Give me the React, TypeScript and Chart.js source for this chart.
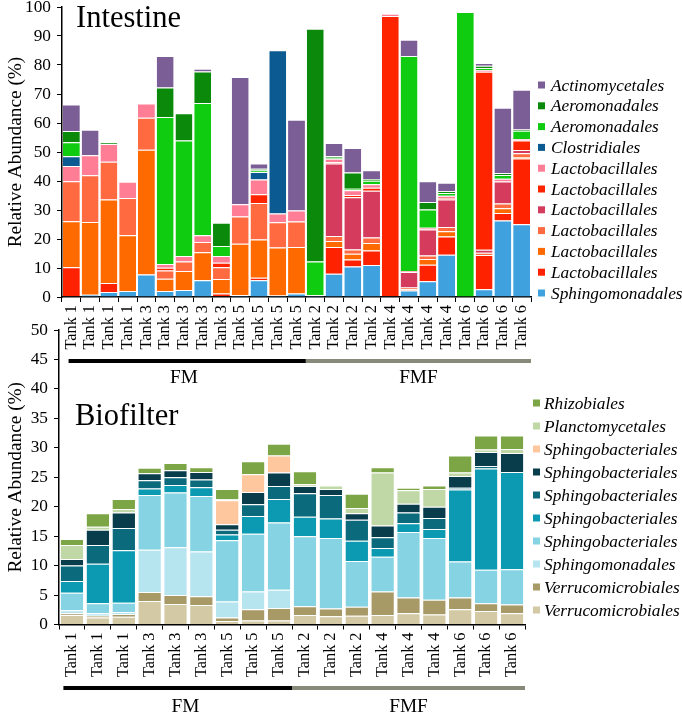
import React, { useEffect, useRef } from "react";
import { Chart, registerables } from "chart.js";

Chart.register(...registerables);

// ---------------- Intestine data ----------------
const intestineLabels = [
  "Tank 1", "Tank 1", "Tank 1", "Tank 1",
  "Tank 3", "Tank 3", "Tank 3", "Tank 3", "Tank 3",
  "Tank 5", "Tank 5", "Tank 5", "Tank 5",
  "Tank 2", "Tank 2", "Tank 2", "Tank 2",
  "Tank 4", "Tank 4", "Tank 4", "Tank 4",
  "Tank 6", "Tank 6", "Tank 6", "Tank 6",
];
const intSphingomonadales = [0.3, 0.8, 1.7, 2.1, 7.8, 2.1, 2.4, 5.8, 0.3, 0.6, 5.8, 0.5, 1.2, 0.6, 8.0, 10.5, 11.0, 0.3, 2.2, 5.4, 14.6, 0.2, 2.7, 26.4, 25.1];
const intLactoRedLow = [10.0, 0, 3.1, 0, 0, 0, 0, 0, 0.9, 0, 0.8, 0, 0, 0, 9.2, 2.4, 5.0, 0, 0, 5.7, 6.3, 0, 11.8, 2.6, 22.7];
const intLactoOrange = [15.8, 25.1, 28.8, 19.2, 43.0, 4.2, 6.6, 9.6, 5.0, 17.8, 13.2, 16.6, 16.0, 0, 2.1, 2.0, 2.6, 0, 0.5, 2.0, 1.8, 0, 0, 1.6, 0.4];
const intLactoCoral = [13.8, 16.1, 13.0, 12.8, 11.0, 2.8, 3.2, 3.6, 4.1, 9.4, 12.6, 8.7, 8.8, 0, 1.7, 1.5, 1.9, 0, 0.6, 1.2, 1.4, 0, 0.8, 1.6, 1.4];
const intLactoCrimson = [0, 0, 0, 0, 0, 0, 0, 0, 0, 0, 0, 0, 0, 0, 25.0, 18.0, 16.1, 0, 5.3, 9.0, 9.5, 0, 1.0, 7.6, 1.1];
const intLactoRedHigh = [0, 0, 0, 0, 0, 1.0, 0, 0, 1.5, 0, 3.0, 0, 0, 0, 0.5, 0.8, 1.1, 96.6, 0, 0, 0.5, 0, 61.4, 0, 3.3];
const intLactoPink = [5.3, 6.9, 6.2, 5.6, 4.9, 1.3, 1.9, 2.3, 2.3, 4.2, 5.1, 3.0, 3.8, 0, 1.2, 1.6, 1.2, 0.8, 0.4, 0.6, 0.8, 0, 0.6, 1.0, 0.5];
const intClostridiales = [3.3, 0, 0, 0, 0, 0, 0, 0, 0, 0, 2.6, 56.3, 0, 0, 0, 0, 0, 0, 0, 0, 0, 0, 0, 0, 0];
const intAeroBright = [4.9, 0, 0, 0, 0, 50.7, 39.9, 45.6, 3.5, 0, 0.5, 0, 0, 11.6, 0.3, 0.5, 1.2, 0, 74.1, 6.3, 1.0, 98.1, 0.6, 1.3, 2.8];
const intAeroDark = [3.8, 0, 0.4, 0, 0, 10.1, 9.4, 10.9, 8.0, 0, 0.6, 0, 0, 80.3, 0.6, 5.6, 0.6, 0, 0, 2.6, 0.6, 0, 0.8, 0.7, 0.5];
const intActinomycetales = [9.2, 8.8, 0, 0, 0, 10.9, 0, 0.9, 0, 43.9, 1.8, 0, 31.3, 0, 4.5, 8.5, 3.0, 0, 5.6, 7.1, 2.9, 0, 1.0, 22.5, 13.7];
const intestineGroups = [
  { label: "FM", from: 0, to: 12 },
  { label: "FMF", from: 13, to: 24 },
];

// ---------------- Biofilter data ----------------
const biofilterLabels = [
  "Tank 1", "Tank 1", "Tank 1", "Tank 3", "Tank 3", "Tank 3", "Tank 5", "Tank 5", "Tank 5",
  "Tank 2", "Tank 2", "Tank 2", "Tank 4", "Tank 4", "Tank 4", "Tank 6", "Tank 6", "Tank 6",
];
const bioVerrucoLight = [1.6, 1.2, 1.3, 4.0, 3.5, 3.3, 0.6, 0.7, 0.7, 1.6, 1.4, 1.5, 1.6, 1.9, 1.7, 2.6, 2.3, 1.9];
const bioVerrucoDark = [0.3, 0.3, 0.5, 1.5, 1.5, 1.5, 0.6, 1.9, 2.1, 1.5, 1.3, 1.5, 4.0, 2.7, 2.5, 2.0, 1.3, 1.5];
const bioSphingomonadales = [0.5, 0.4, 0.3, 7.2, 8.1, 7.6, 2.7, 3.0, 3.1, 0, 0, 0, 0, 0, 0, 0, 0, 0];
const bioSphingoLightBlue = [3.0, 1.7, 1.6, 9.3, 9.3, 9.4, 10.4, 9.8, 11.4, 11.9, 12.0, 7.8, 5.9, 11.1, 10.5, 6.1, 5.7, 6.0];
const bioSphingoTeal = [2.0, 6.7, 8.9, 1.1, 1.3, 1.5, 1.0, 3.0, 4.0, 3.3, 3.3, 3.4, 1.5, 1.5, 1.5, 12.2, 17.2, 16.5];
const bioSphingoDarkTeal = [2.6, 3.2, 3.8, 1.4, 1.3, 1.3, 0.8, 2.0, 2.2, 4.0, 4.0, 3.6, 1.8, 1.8, 1.9, 0.3, 0.4, 0];
const bioSphingoNavy = [1.1, 2.6, 2.6, 1.2, 1.2, 1.3, 0.9, 2.1, 2.3, 1.2, 1.0, 1.1, 2.0, 1.5, 1.9, 2.0, 2.4, 3.2];
const bioSphingoPeach = [0, 0, 0, 0, 0, 0, 4.1, 3.0, 2.9, 0, 0, 0, 0, 0, 0, 0, 0, 0];
const bioPlanctomycetales = [2.4, 0.5, 0.6, 0, 0, 0, 0.2, 0, 0, 0.3, 0.6, 0.9, 9.0, 2.3, 3.0, 0.6, 0.4, 0.7];
const bioRhizobiales = [1.0, 2.3, 1.7, 0.9, 1.2, 0.8, 1.7, 2.2, 2.0, 2.2, 0, 2.4, 0.9, 0.4, 0.6, 2.9, 2.4, 2.3];
const biofilterGroups = [
  { label: "FM", from: 0, to: 8 },
  { label: "FMF", from: 9, to: 17 },
];

// datasets, bottom of stack first
const intestineSeries = [
  { label: "Sphingomonadales", data: intSphingomonadales, color: "#3fa2df" },
  { label: "Lactobacillales", data: intLactoRedLow, color: "#ff2200" },
  { label: "Lactobacillales", data: intLactoOrange, color: "#ff6a00" },
  { label: "Lactobacillales", data: intLactoCoral, color: "#ff6a40" },
  { label: "Lactobacillales", data: intLactoCrimson, color: "#d53b5d" },
  { label: "Lactobacillales", data: intLactoRedHigh, color: "#ff2400" },
  { label: "Lactobacillales", data: intLactoPink, color: "#ff7e96" },
  { label: "Clostridiales", data: intClostridiales, color: "#0b5a91" },
  { label: "Aeromonadales", data: intAeroBright, color: "#10cc10" },
  { label: "Aeromonadales", data: intAeroDark, color: "#0a890a" },
  { label: "Actinomycetales", data: intActinomycetales, color: "#7b5e96" },
];
const biofilterSeries = [
  { label: "Verrucomicrobiales", data: bioVerrucoLight, color: "#d3c9a4" },
  { label: "Verrucomicrobiales", data: bioVerrucoDark, color: "#a89a66" },
  { label: "Sphingomonadales", data: bioSphingomonadales, color: "#b6e4ef" },
  { label: "Sphingobacteriales", data: bioSphingoLightBlue, color: "#85d3e3" },
  { label: "Sphingobacteriales", data: bioSphingoTeal, color: "#0b9ab2" },
  { label: "Sphingobacteriales", data: bioSphingoDarkTeal, color: "#0c6a7d" },
  { label: "Sphingobacteriales", data: bioSphingoNavy, color: "#0a3d4b" },
  { label: "Sphingobacteriales", data: bioSphingoPeach, color: "#ffc79e" },
  { label: "Planctomycetales", data: bioPlanctomycetales, color: "#bfd8a5" },
  { label: "Rhizobiales", data: bioRhizobiales, color: "#7ca545" },
];

// Pick an installed serif face and a size factor so text widths match Times metrics.
function pickSerif(): { family: string; k: number } {
  const ctx = document.createElement("canvas").getContext("2d") as CanvasRenderingContext2D;
  const sample = "Relative Abundance (%)";
  ctx.font = "40px monospace";
  const mono = ctx.measureText(sample).width;
  const candidates = ['"Liberation Serif"', '"Times New Roman"', "Tinos", '"Noto Serif"', '"DejaVu Serif"'];
  for (const fam of candidates) {
    ctx.font = `40px ${fam}, monospace`;
    const w = ctx.measureText(sample).width;
    if (Math.abs(w - mono) > 0.5) {
      ctx.font = `19px ${fam}, serif`;
      const w19 = ctx.measureText(sample).width;
      let k = 191 / w19;
      k = Math.max(0.7, Math.min(1.15, k));
      return { family: `${fam}, serif`, k };
    }
  }
  return { family: "serif", k: 1 };
}

type PanelOpts = {
  font: { family: string; k: number };
  labels: string[];
  series: { label: string; data: number[]; color: string }[];
  groups: { label: string; from: number; to: number }[];
  title: string;
  titleX: number;
  titleY: number;
  yMax: number;
  yStep: number;
  barPct: number;
  yWidth: number;
  xHeight: number;
  padTop: number;
  padRight: number;
  legendBoxDx: number;
  legendTextDx: number;
  legendSpacing: number;
  legendBottomGap: number;
  lineDy: number;
  labelDy: number;
  lineStartInset: number;
  firstLabelShift: number;
};

function buildConfig(p: PanelOpts): any {
  const FONT = p.font.family;
  const sz = (n: number) => Math.round(n * p.font.k * 10) / 10;
  const panelPlugin = {
    id: "panelDecor",
    afterDraw(chart: any) {
      const { ctx, chartArea } = chart;
      const x = chart.scales.x;
      ctx.save();
      // panel title
      ctx.fillStyle = "#000";
      ctx.font = `${sz(30)}px ${FONT}`;
      ctx.textAlign = "left";
      ctx.textBaseline = "alphabetic";
      ctx.fillText(p.title, p.titleX, p.titleY);

      // legend (top of stack first)
      const items = [...chart.data.datasets].reverse();
      const n = items.length;
      ctx.font = `italic ${sz(17)}px ${FONT}`;
      ctx.textBaseline = "middle";
      items.forEach((ds: any, i: number) => {
        const cy = chartArea.bottom - p.legendBottomGap - (n - 1 - i) * p.legendSpacing;
        ctx.fillStyle = ds.backgroundColor;
        ctx.fillRect(chartArea.right + p.legendBoxDx, cy - 3.5, 7, 7);
        ctx.fillStyle = "#000";
        ctx.fillText(ds.label, chartArea.right + p.legendTextDx, cy + 1);
      });

      // group bars and labels
      const cw = x.getPixelForValue(1) - x.getPixelForValue(0);
      const lineY = chartArea.bottom + p.lineDy;
      const labelY = chartArea.bottom + p.labelDy;
      p.groups.forEach((g, gi) => {
        const left = x.getPixelForValue(g.from) - cw / 2;
        const x0 = gi === 0 ? left + cw * p.lineStartInset : left;
        const x1 = x.getPixelForValue(g.to) + cw / 2;
        ctx.fillStyle = gi === 0 ? "#000000" : "#878979";
        ctx.fillRect(x0, lineY - 2, x1 - x0, 4);
        ctx.fillStyle = "#000";
        ctx.font = `${sz(19)}px ${FONT}`;
        ctx.textAlign = "center";
        ctx.textBaseline = "middle";
        const shift = gi === 0 ? p.firstLabelShift : 0;
        ctx.fillText(g.label, (left + x1) / 2 + shift, labelY);
      });
      ctx.restore();
    },
  };

  return {
    type: "bar",
    data: {
      labels: p.labels,
      datasets: p.series.map((s) => ({
        label: s.label,
        data: s.data,
        backgroundColor: s.color,
        borderColor: "#ffffff",
        borderWidth: { top: 1, left: 0, right: 0, bottom: 0 },
        borderSkipped: "start",
        barPercentage: p.barPct,
        categoryPercentage: 1,
      })),
    },
    options: {
      responsive: false,
      animation: false,
      layout: { padding: { top: p.padTop, right: p.padRight, left: 0, bottom: 0 } },
      plugins: { legend: { display: false }, tooltip: { enabled: false } },
      scales: {
        x: {
          stacked: true,
          ticks: {
            autoSkip: false,
            minRotation: 90,
            maxRotation: 90,
            font: { family: FONT, size: sz(16) },
            color: "#000",
            padding: 3,
          },
          grid: { drawOnChartArea: false, tickLength: 5, color: "#000", offset: true },
          border: { color: "#000", width: 1.5 },
          afterFit: (s: any) => {
            s.height = p.xHeight;
            s.paddingLeft = 0;
            s.paddingRight = 0;
          },
        },
        y: {
          stacked: true,
          min: 0,
          max: p.yMax,
          ticks: { stepSize: p.yStep, font: { family: FONT, size: sz(17) }, color: "#000", padding: 6 },
          grid: { drawOnChartArea: false, tickLength: 5, color: "#000" },
          border: { color: "#000", width: 1.5 },
          title: {
            display: true,
            text: "Relative Abundance (%)",
            font: { family: FONT, size: sz(19) },
            color: "#000",
            padding: { top: 4, bottom: 4 },
          },
          afterFit: (s: any) => {
            s.width = p.yWidth;
            s.paddingTop = 0;
            s.paddingBottom = 0;
          },
        },
      },
    },
    plugins: [panelPlugin],
  };
}

export default function App() {
  const topRef = useRef<HTMLCanvasElement>(null);
  const botRef = useRef<HTMLCanvasElement>(null);

  useEffect(() => {
    const font = pickSerif();
    const top = new Chart(
      topRef.current as HTMLCanvasElement,
      buildConfig({
        font,
        labels: intestineLabels,
        series: intestineSeries,
        groups: intestineGroups,
        title: "Intestine",
        titleX: 76,
        titleY: 27,
        yMax: 100,
        yStep: 10,
        barPct: 0.9,
        yWidth: 62,
        xHeight: 98,
        padTop: 7,
        padRight: 151,
        legendBoxDx: 7,
        legendTextDx: 20,
        legendSpacing: 20.8,
        legendBottomGap: 4,
        lineDy: 64,
        labelDy: 81,
        lineStartInset: 0.35,
        firstLabelShift: 0,
      })
    );
    const bot = new Chart(
      botRef.current as HTMLCanvasElement,
      buildConfig({
        font,
        labels: biofilterLabels,
        series: biofilterSeries,
        groups: biofilterGroups,
        title: "Biofilter",
        titleX: 75,
        titleY: 105,
        yMax: 50,
        yStep: 5,
        barPct: 0.87,
        yWidth: 59,
        xHeight: 93.5,
        padTop: 10,
        padRight: 157,
        legendBoxDx: 8,
        legendTextDx: 19,
        legendSpacing: 23,
        legendBottomGap: 14.5,
        lineDy: 63.5,
        labelDy: 82.5,
        lineStartInset: 0.17,
        firstLabelShift: 10,
      })
    );
    return () => {
      top.destroy();
      bot.destroy();
    };
  }, []);

  return (
    <div style={{ position: "absolute", left: 0, top: 0, width: 682, height: 718, background: "#fff" }}>
      <canvas ref={topRef} width={682} height={395} style={{ position: "absolute", left: 0, top: 0, display: "block" }} />
      <canvas ref={botRef} width={682} height={398} style={{ position: "absolute", left: 0, top: 320, display: "block" }} />
    </div>
  );
}
